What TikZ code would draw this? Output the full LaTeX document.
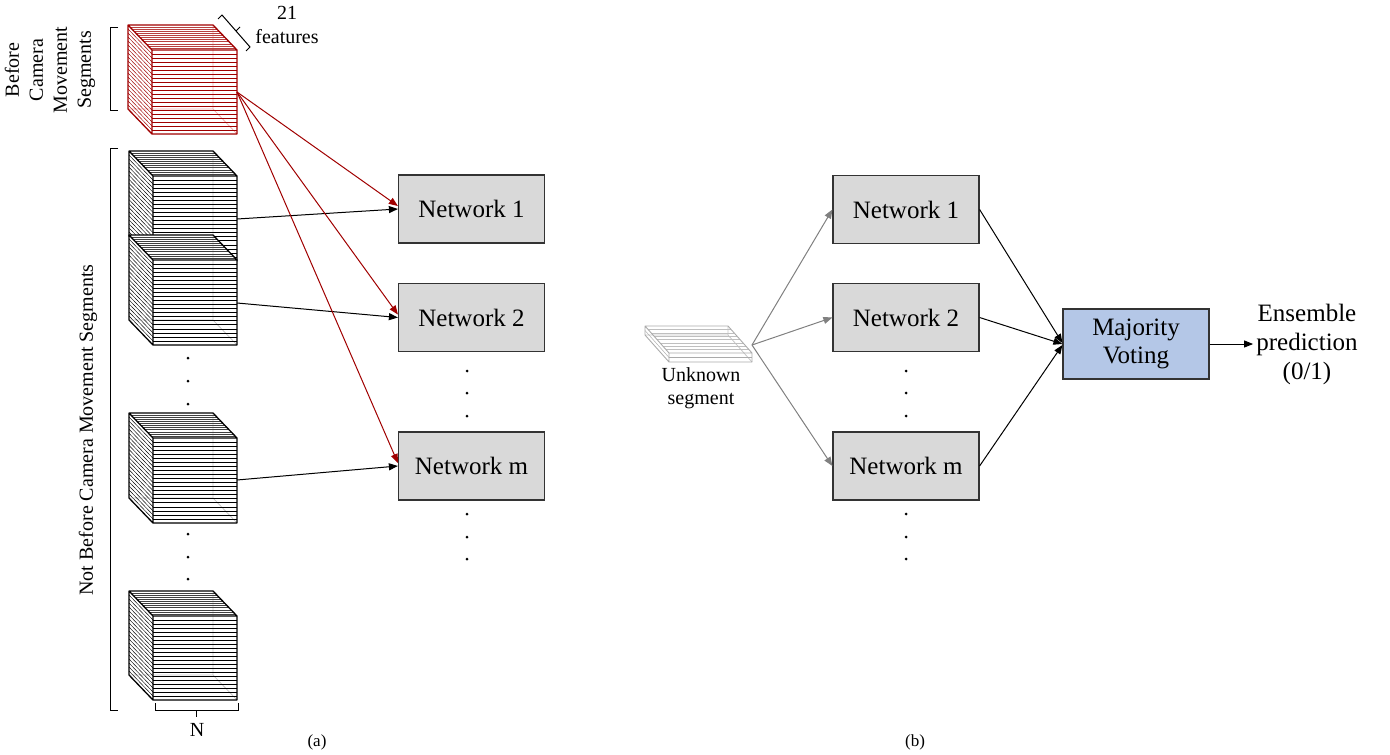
\documentclass[tikz,border=0pt]{standalone}
\usepackage{fontspec}
\setmainfont{Liberation Serif}
\usetikzlibrary{arrows.meta,calc}
\definecolor{dred}{RGB}{160,0,0}
\definecolor{lred}{RGB}{240,175,175}
\definecolor{netfill}{RGB}{217,217,217}
\definecolor{mvfill}{RGB}{180,199,231}
\definecolor{arrgray}{RGB}{128,128,128}
\definecolor{slabgray}{RGB}{170,170,170}
\definecolor{faintgray}{RGB}{200,200,200}
\def\outw{1.3pt}
\def\topn{11}
% #1 x, #2 y (front top-left), #3 w, #4 h, #5 dx, #6 dy, #7 colour, #8 faint colour, #9 lines
\newcommand{\slabbox}[9]{%
\begin{scope}[shift={(#1,#2)}]
 \fill[white] (-#5,-#6) -- (#3-#5,-#6) -- (#3,0) -- (#3,#4) -- (0,#4) -- (-#5,#4-#6) -- cycle;
 \draw[#8, line width=0.8pt] (#3-#5,-#6) -- (#3-#5,#4-#6) -- (-#5,#4-#6) (#3-#5,#4-#6) -- (#3,#4);
 \foreach \i in {1,...,#9} {
   \draw[#7, line width=0.55pt] (0,{\i*#4/(#9+1)}) -- (#3,{\i*#4/(#9+1)});
   \draw[#7, line width=0.45pt] (-#5,{\i*#4/(#9+1)-#6}) -- (0,{\i*#4/(#9+1)});
 }
 \foreach \j in {1,...,\topn} {
   \draw[#7!75, line width=0.4pt] ({-#5+\j*#5/(\topn+1)},{-#6+\j*#6/(\topn+1)}) -- ({#3-#5+\j*#5/(\topn+1)},{-#6+\j*#6/(\topn+1)});
 }
 \draw[#7, line width=\outw, line join=round] (-#5,-#6) -- (#3-#5,-#6) -- (#3,0) -- (#3,#4) -- (0,#4) -- (-#5,#4-#6) -- cycle (-#5,-#6) -- (0,0) -- (#3,0) (0,0) -- (0,#4);
\end{scope}}
\tikzset{
  net/.style={draw=black!80, line width=1.2pt, fill=netfill, minimum width=146pt, minimum height=68pt, font=\fontsize{25}{30}\selectfont, inner sep=0pt},
  vote/.style={draw=black!80, line width=1.2pt, fill=mvfill, minimum width=146pt, minimum height=70pt, font=\fontsize{25}{28}\selectfont, align=center, inner sep=0pt},
  lbl/.style={font=\fontsize{20}{24}\selectfont, align=center, inner sep=0pt},
  sublbl/.style={font=\fontsize{17}{20}\selectfont, inner sep=0pt},
  arr/.style={-{Triangle[length=9pt,width=7pt]}, line width=1pt},
  brk/.style={line width=1pt, black},
  dotmark/.style={fill=black}
}
\begin{document}
\begin{tikzpicture}[x=1pt,y=-1pt]
\useasboundingbox (0,0) rectangle (1390,755);
% ---------- (a) cubes ----------
\slabbox{152}{50}{85}{84}{24}{25}{dred}{lred}{20}
\slabbox{153}{176}{84}{85}{24}{25}{black}{faintgray}{20}
\slabbox{153}{260}{84}{85}{24}{25}{black}{faintgray}{20}
\slabbox{153}{438}{84}{85}{24}{25}{black}{faintgray}{20}
\slabbox{153}{616}{84}{84}{24}{25}{black}{faintgray}{20}
\coordinate (redout) at (237,92);
\coordinate (c1out) at (237,219);
\coordinate (c2out) at (237,303);
\coordinate (c3out) at (237,480);
% dots between cubes
\foreach \yy in {358,381,404,534,557,579} \fill[dotmark] (188,\yy) circle (1.5);
% brackets
\draw[brk] (118,27) -- (110,27) -- (110,110) -- (118,110);
\draw[brk] (118,148) -- (110,148) -- (110,710) -- (118,710);
\draw[brk] (155,703) -- (155,710) -- (238,710) -- (238,703) (196.5,710) -- (196.5,717);
\draw[brk] (218,19) -- (222,15) -- (250,47) -- (246,51) (236,31) -- (240,27);
\node[lbl, rotate=90] (before) at (50,70) {Before\\Camera\\Movement\\Segments};
\node[lbl, rotate=90] (notbefore) at (88,430) {Not Before Camera Movement Segments};
\node[lbl] (feat) at (287,25) {21\\features};
\node[lbl] (nlab) at (197,730) {N};
\node[sublbl] (capa) at (317,742) {(a)};
% networks (a)
\node[net] (n1a) at (471.5,209) {Network 1};
\node[net] (n2a) at (471.5,317.5) {Network 2};
\node[net] (nma) at (471.5,466) {Network m};
\foreach \yy in {371,393,416,514,537,559} \fill[dotmark] (467,\yy) circle (1.5);
\draw[arr] (c1out) -- (n1a.west);
\draw[arr] (c2out) -- (n2a.west);
\draw[arr] (c3out) -- (nma.west);
\draw[arr, dred] (redout) -- ([yshift=3pt]n1a.west);
\draw[arr, dred] (redout) -- ([yshift=3pt]n2a.west);
\draw[arr, dred] (redout) -- ([yshift=3pt]nma.west);
% ---------- (b) ----------
\def\outw{0.9pt}\def\topn{7}
\slabbox{669}{353}{83}{9}{24}{27}{slabgray}{faintgray}{1}
\coordinate (segout) at (752,345);
\node[lbl, font=\fontsize{20}{23}\selectfont] (unk) at (701,388) {Unknown\\segment};
\node[net] (n1b) at (906,209.5) {Network 1};
\node[net] (n2b) at (906,317.5) {Network 2};
\node[net] (nmb) at (906,466) {Network m};
\foreach \yy in {371,393,416,514,537,559} \fill[dotmark] (906,\yy) circle (1.5);
\node[vote] (mv) at (1136,344) {Majority\\Voting};
\node[font=\fontsize{25}{29}\selectfont, align=center, inner sep=3pt] (ens) at (1307,344) {Ensemble\\prediction\\(0/1)};
\draw[arr, arrgray] (segout) -- (n1b.west);
\draw[arr, arrgray] (segout) -- (n2b.west);
\draw[arr, arrgray] (segout) -- (nmb.west);
\draw[arr] (n1b.east) -- ([yshift=1pt]mv.west);
\draw[arr] (n2b.east) -- (mv.west);
\draw[arr] (nmb.east) -- ([yshift=-1pt]mv.west);
\draw[arr] (mv.east) -- (ens.west);
\node[sublbl] (capb) at (915,742) {(b)};
\end{tikzpicture}
\end{document}
